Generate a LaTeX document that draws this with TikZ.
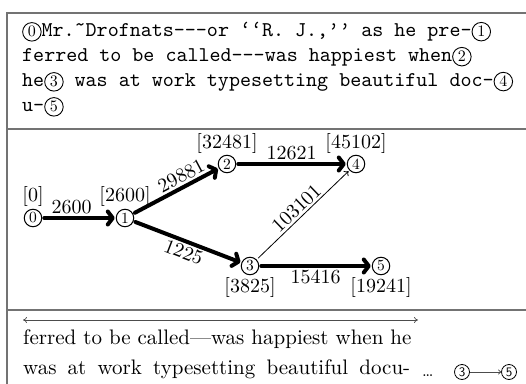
\documentclass[tikz,border=0pt]{standalone}
\usepackage{fontspec}
% text-size designs of Latin Modern, scaled up
\setmainfont{lmroman10-regular.otf}
\setmonofont{lmmono10-regular.otf}
\setsansfont{lmsans10-regular.otf}
\usetikzlibrary{arrows.meta}

\definecolor{framegray}{gray}{0.45}
\definecolor{inkgray}{gray}{0.3}

% circled number set inline with the running text
\newcommand\cnum[1]{\tikz[baseline=(cn.base)]\node[draw,circle,inner sep=0pt,
  minimum size=18.5pt,line width=0.9pt,font=\rmfamily\fontsize{16}{16}\selectfont](cn){#1};}

\tikzset{
  frame/.style={draw=framegray,line width=1.8pt},
  ttline/.style={anchor=base west,inner sep=0pt,font=\ttfamily\fontsize{21}{24}\selectfont},
  rmline/.style={anchor=base west,inner sep=0pt,font=\rmfamily\fontsize{21}{25}\selectfont},
  vertex/.style={draw,circle,line width=1pt,inner sep=0pt,minimum size=17.5pt,
    font=\rmfamily\fontsize{15.5}{15.5}\selectfont},
  stamp/.style={font=\rmfamily\fontsize{20}{20}\selectfont,inner sep=1pt},
  wt/.style={font=\rmfamily\fontsize{20}{20}\selectfont,inner sep=2pt},
  heavy/.style={line width=4pt,line cap=round,shorten <=2pt,shorten >=1pt,
    -{Straight Barb[length=5pt,width=13pt,line cap=round,line join=round]}},
  light/.style={line width=0.8pt,shorten <=2pt,shorten >=1pt,-{To[length=4pt,width=7pt]}},
  small/.style={draw,circle,line width=0.8pt,inner sep=0pt,minimum size=15pt,
    font=\sffamily\fontsize{13}{13}\selectfont},
}

\begin{document}
\begin{tikzpicture}[x=1pt,y=1pt]
\useasboundingbox (0,0) rectangle (526,383);

% frame and panel dividers
\draw[frame] (7,-20) -- (7,370) -- (560,370);
\draw[frame] (7,254) -- (560,254);
\draw[frame] (7,73) -- (560,73);

% top panel: source text with marks
\node[ttline] (t1) at (22,346) {\cnum{0}Mr.\char"02DC Drofnats---or ‘‘R. J.,’’ as he pre-\cnum{1}};
\node[ttline] (t2) at (22,321) {ferred to be called---was happiest when\cnum{2}};
\node[ttline] (t3) at (22,296) {he\cnum{3} was at work typesetting beautiful doc-\cnum{4}};
\node[ttline] (t4) at (22,271) {u-\cnum{5}};

% middle panel: break graph
\node[vertex,label={[stamp,label distance=1pt]above:{[0]}}] (n0) at (33,165) {0};
\node[vertex,label={[stamp,label distance=1pt]above:{[2600]}}] (n1) at (125,165) {1};
\node[vertex,label={[stamp,label distance=0pt]above:{[32481]}}] (n2) at (227,219) {2};
\node[vertex,label={[stamp,label distance=1pt]below:{[3825]}}] (n3) at (250,117) {3};
\node[vertex,label={[stamp,label distance=0pt]above:{[45102]}}] (n4) at (356,219) {4};
\node[vertex,label={[stamp,label distance=1pt]below:{[19241]}}] (n5) at (381,117) {5};

\draw[heavy] (n0) -- node[wt,above,pos=0.4] {2600} (n1);
\draw[heavy] (n1) -- node[wt,above,sloped,pos=0.62] {29881} (n2);
\draw[heavy] (n1) -- node[wt,below,sloped] {1225} (n3);
\draw[heavy] (n2) -- node[wt,above] {12621} (n4);
\draw[heavy] (n3) -- node[wt,below] {15416} (n5);
\draw[light] (n3) -- node[wt,above,sloped] {103101} (n4);

% bottom panel: typeset result
\coordinate (wl) at (23,63);
\coordinate (wr) at (418,63);
\draw[inkgray,line width=0.7pt,{To[length=4pt,width=6pt]}-{To[length=4pt,width=6pt]}] (wl) -- (wr);
\node[rmline] (b1) at (23,39) {ferred to be called---was happiest when he};
\node[rmline] (b2) at (23,9) {\makebox[387pt][s]{was at work typesetting beautiful docu-}};
\node[anchor=base west,inner sep=0pt,font=\rmfamily\fontsize{17}{17}\selectfont] (dots) at (422,7) {\ldots};
\node[small] (s3) at (462,11) {3};
\node[small] (s5) at (509,11) {5};
\draw[inkgray,line width=0.8pt,-{To[length=3pt,width=5pt]}] (s3) -- (s5);
\end{tikzpicture}
\end{document}
